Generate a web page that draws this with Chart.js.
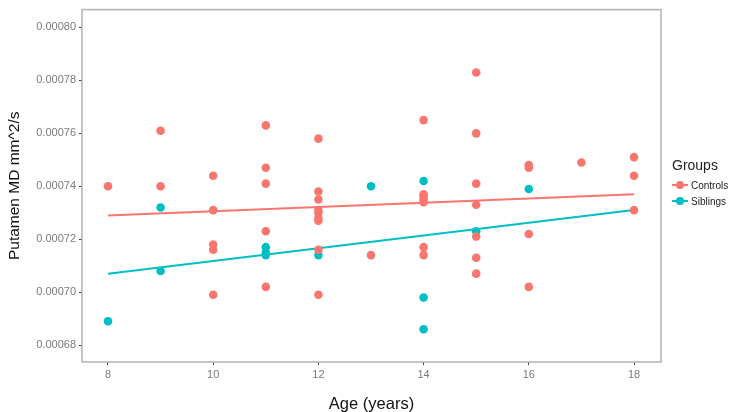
<!DOCTYPE html>
<html lang="en">
<head>
  <meta charset="UTF-8">
  <title>Putamen MD by age</title>
  <script src="https://cdn.jsdelivr.net/npm/chart.js"></script>
  <style>
    body { margin: 0; padding: 0; background: #fff; font-family: 'Liberation Sans', Arial, sans-serif; }
    .wrap { position: relative; width: 747px; height: 412px; }
    #legend { position: absolute; left: 672px; top: 157px; color: #222; }
    #legend .title { font-size: 14px; margin-bottom: 4px; }
    #legend .item { font-size: 10px; display: flex; align-items: center; height: 16px; }
    #legend .key { position: relative; width: 16px; height: 15px; margin-right: 3px; }
    #legend .key .ln { position: absolute; left: 0; right: 0; top: 6px; height: 2px; }
    #legend .key .dt { position: absolute; left: 4px; top: 3px; width: 8px; height: 8px; border-radius: 50%; }
  </style>
</head>
<body>
  <div class="wrap">
    <canvas id="chart" width="747" height="412"></canvas>
    <div id="legend">
      <div class="title">Groups</div>
      <div class="item"><span class="key"><span class="ln" style="background:#F8766D"></span><span class="dt" style="background:#F8766D"></span></span>Controls</div>
      <div class="item"><span class="key"><span class="ln" style="background:#00BFC4"></span><span class="dt" style="background:#00BFC4"></span></span>Siblings</div>
    </div>
  </div>

  <script>
    // data
    const controlsAge = [8, 9, 9, 10, 10, 10, 10, 10, 11, 11, 11, 11, 11,
      12, 12, 12, 12, 12, 12, 12, 12, 12, 13, 14, 14, 14, 14, 14, 14, 14,
      15, 15, 15, 15, 15, 15, 15, 16, 16, 16, 16, 17, 18, 18, 18];
    const controlsMD = [0.000740, 0.000761, 0.000740, 0.000744, 0.000731, 0.000718, 0.000716, 0.000699,
      0.000763, 0.000747, 0.000741, 0.000723, 0.000702,
      0.000758, 0.000738, 0.000735, 0.000731, 0.000730, 0.000728, 0.000727, 0.000716, 0.000699,
      0.000714, 0.000765, 0.000737, 0.000736, 0.000735, 0.000734, 0.000717, 0.000714,
      0.000783, 0.000760, 0.000741, 0.000733, 0.000721, 0.000713, 0.000707,
      0.000748, 0.000747, 0.000722, 0.000702, 0.000749, 0.000751, 0.000744, 0.000731];
    const siblingsAge = [8, 9, 9, 11, 11, 11, 12, 13, 14, 14, 14, 15, 16];
    const siblingsMD = [0.000689, 0.000732, 0.000708, 0.000717, 0.000715, 0.000714, 0.000714,
      0.000740, 0.000742, 0.000698, 0.000686, 0.000723, 0.000739];
    const fitAge = [8, 18];
    const controlsFit = [0.000729, 0.000737];
    const siblingsFit = [0.000707, 0.000731];
    const xTicks = [8, 10, 12, 14, 16, 18];
    const yTicks = [0.00068, 0.00070, 0.00072, 0.00074, 0.00076, 0.00078, 0.00080];

    const red = '#F8766D';
    const teal = '#00BFC4';
    const pts = (xs, ys) => xs.map((x, i) => ({ x: x, y: ys[i] }));

    const panelBox = {
      id: 'panelBox',
      afterDatasetsDraw(chart) {
        const a = chart.chartArea, ctx = chart.ctx;
        ctx.save();
        ctx.strokeStyle = '#b3b3b3';
        ctx.lineWidth = 1.5;
        ctx.strokeRect(a.left, a.top, a.right - a.left, a.bottom - a.top);
        ctx.restore();
      }
    };

    new Chart(document.getElementById('chart'), {
      type: 'scatter',
      data: {
        datasets: [
          { data: pts(controlsAge, controlsMD), backgroundColor: red, borderColor: red, pointRadius: 4.3, pointBorderWidth: 0 },
          { data: pts(siblingsAge, siblingsMD), backgroundColor: teal, borderColor: teal, pointRadius: 4.3, pointBorderWidth: 0 },
          { type: 'line', data: pts(fitAge, controlsFit), borderColor: red, borderWidth: 2, pointRadius: 0, fill: false },
          { type: 'line', data: pts(fitAge, siblingsFit), borderColor: teal, borderWidth: 2, pointRadius: 0, fill: false }
        ]
      },
      options: {
        responsive: false,
        animation: false,
        layout: { padding: { top: 7, right: 86, left: 0, bottom: 0 } },
        plugins: { legend: { display: false }, tooltip: { enabled: false } },
        scales: {
          x: {
            type: 'linear', min: 7.506, max: 18.513,
            afterBuildTicks: s => { s.ticks = xTicks.map(v => ({ value: v })); },
            afterFit: s => { s.height = 50; },
            grid: { drawOnChartArea: false, drawTicks: true, tickLength: 3, color: '#444' },
            border: { display: false },
            ticks: { color: '#7a7a7a', font: { family: 'Liberation Sans', size: 11 }, padding: 3 },
            title: { display: true, text: 'Age (years)', color: '#111', font: { family: 'Liberation Sans', size: 16.5, lineHeight: 0.9 }, padding: { top: 0, bottom: 0 } }
          },
          y: {
            type: 'linear', min: 0.00067362, max: 0.00080675,
            afterBuildTicks: s => { s.ticks = yTicks.map(v => ({ value: v })); },
            afterFit: s => { s.width = 82; },
            grid: { drawOnChartArea: false, drawTicks: true, tickLength: 3, color: '#444' },
            border: { display: false },
            ticks: { color: '#7a7a7a', font: { family: 'Liberation Sans', size: 11 }, padding: 3, callback: v => v.toFixed(5) },
            title: { display: true, text: 'Putamen MD mm^2/s', color: '#111', font: { family: 'Liberation Sans', size: 15.5 }, padding: { top: 5, bottom: 0 } }
          }
        }
      },
      plugins: [panelBox]
    });
  </script>
</body>
</html>
